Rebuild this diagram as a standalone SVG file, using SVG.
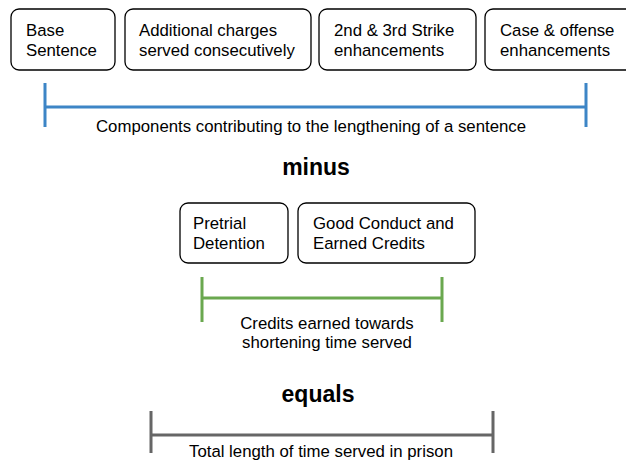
<svg xmlns="http://www.w3.org/2000/svg" width="626" height="462" viewBox="0 0 626 462">
<style>
.box{fill:#fff;stroke:#000;stroke-width:1.3}
.t{font-family:"Liberation Sans",Arial,sans-serif;font-size:16.8px;fill:#000}
.s{font-family:"Liberation Sans",Arial,sans-serif;font-size:16.8px;fill:#000;text-anchor:middle}
.b{font-family:"Liberation Sans",Arial,sans-serif;font-size:23px;font-weight:bold;fill:#000;text-anchor:middle}
.br{fill:none;stroke-width:3}
</style>
<rect width="626" height="462" fill="#fff"/>
<g id="base"><rect class="box" x="11" y="9" width="104" height="61" rx="8"/><text class="t" x="26" y="36">Base</text><text class="t" x="26" y="56">Sentence</text></g>
<g id="additional"><rect class="box" x="125" y="9" width="186" height="61" rx="8"/><text class="t" x="139" y="36">Additional charges</text><text class="t" x="139" y="56">served consecutively</text></g>
<g id="strike"><rect class="box" x="319" y="9" width="157" height="61" rx="8"/><text class="t" x="334" y="36">2nd &amp; 3rd Strike</text><text class="t" x="334" y="56">enhancements</text></g>
<g id="case"><rect class="box" x="485" y="9" width="150" height="61" rx="8"/><text class="t" x="500" y="36">Case &amp; offense</text><text class="t" x="500" y="56">enhancements</text></g>
<g id="connectors">
<path class="br" stroke="#3d85c6" d="M45 83V127M45 107H586M586 83V127"/>
<path class="br" stroke="#6aa84f" d="M202 277V322M202 298H442M442 277V322"/>
<path class="br" stroke="#666" d="M151 411V453M151 435H493M493 411V453"/>
</g>
<g id="label1"><text class="s" x="311" y="132">Components contributing to the lengthening of a sentence</text></g>
<g id="minus"><text class="b" x="316" y="175">minus</text></g>
<g id="pretrial"><rect class="box" x="180" y="203" width="108" height="60" rx="8"/><text class="t" x="193" y="229">Pretrial</text><text class="t" x="193" y="249">Detention</text></g>
<g id="good"><rect class="box" x="298" y="203" width="177" height="60" rx="8"/><text class="t" x="313" y="229">Good Conduct and</text><text class="t" x="313" y="249">Earned Credits</text></g>
<g id="label2"><text class="s" x="327" y="329">Credits earned towards</text><text class="s" x="327" y="348">shortening time served</text></g>
<g id="equals"><text class="b" x="318" y="402">equals</text></g>
<g id="label3"><text class="s" x="321" y="457">Total length of time served in prison</text></g>
</svg>
